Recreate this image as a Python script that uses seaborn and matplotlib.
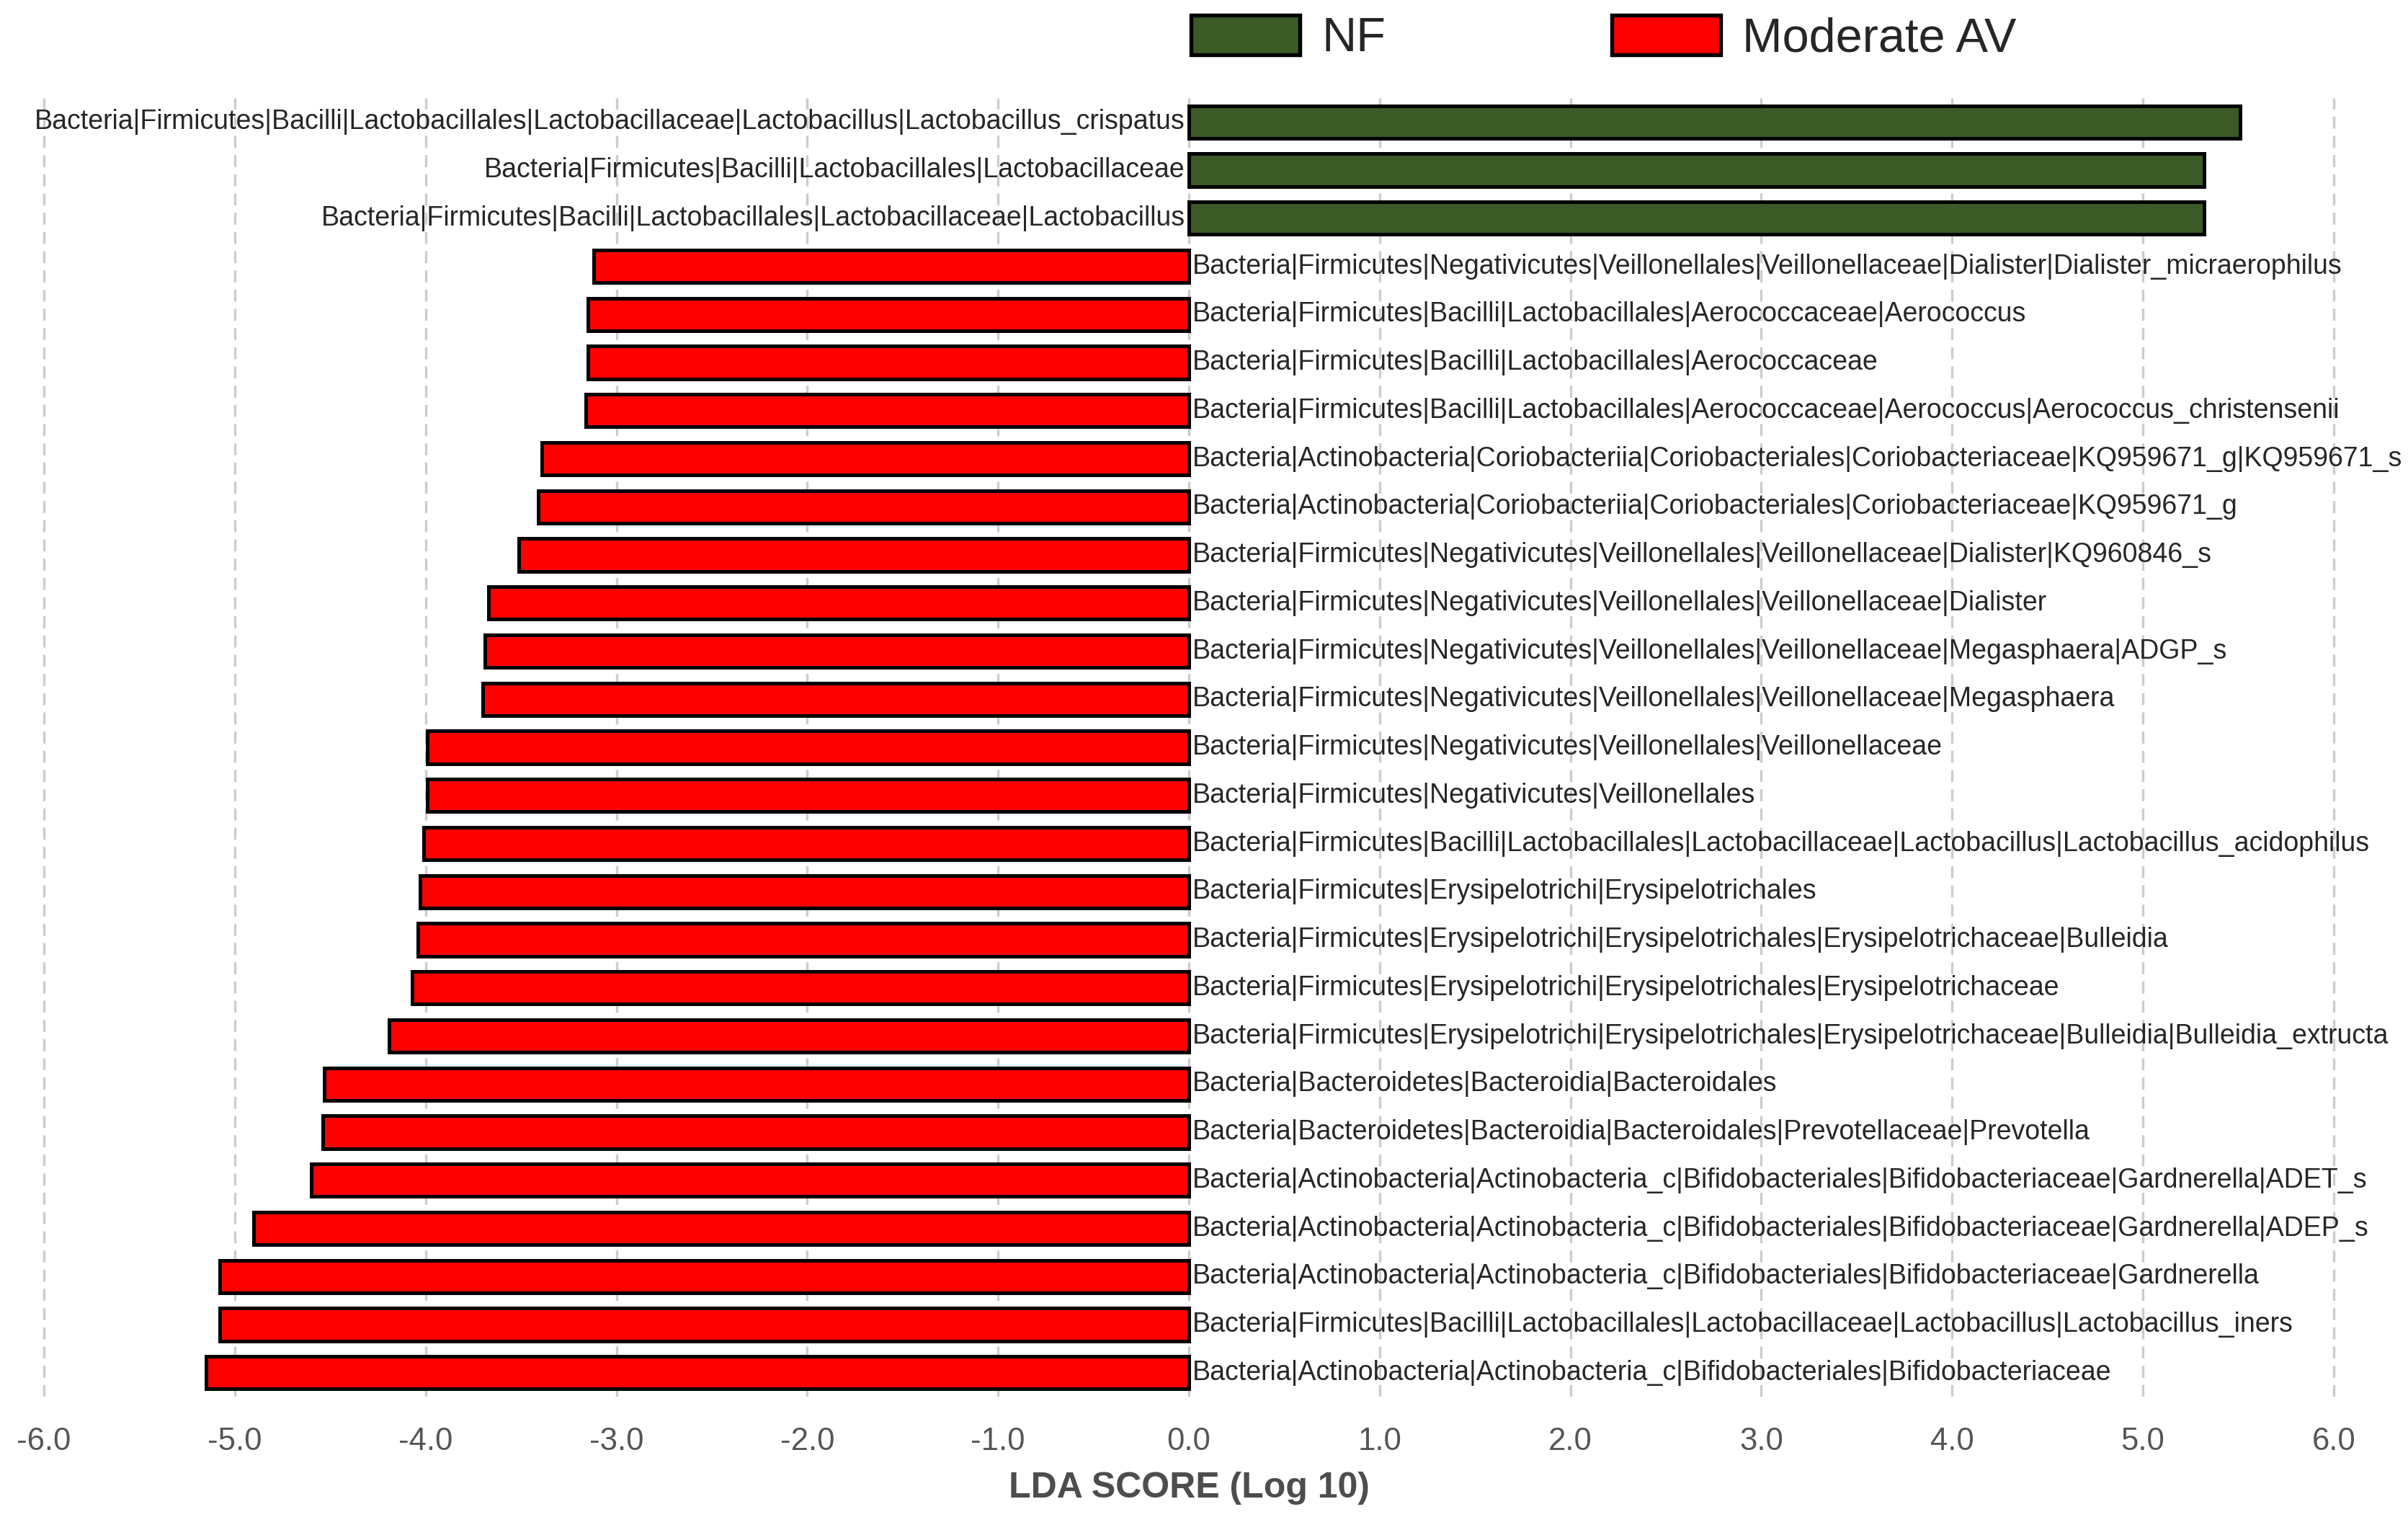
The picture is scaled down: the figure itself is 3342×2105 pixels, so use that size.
import pandas as pd
import matplotlib.pyplot as plt
import matplotlib.patches as mpatches
import seaborn as sns

# taxa, top to bottom as in the figure
taxa = [
    "Bacteria|Firmicutes|Bacilli|Lactobacillales|Lactobacillaceae|Lactobacillus|Lactobacillus_crispatus",
    "Bacteria|Firmicutes|Bacilli|Lactobacillales|Lactobacillaceae",
    "Bacteria|Firmicutes|Bacilli|Lactobacillales|Lactobacillaceae|Lactobacillus",
    "Bacteria|Firmicutes|Negativicutes|Veillonellales|Veillonellaceae|Dialister|Dialister_micraerophilus",
    "Bacteria|Firmicutes|Bacilli|Lactobacillales|Aerococcaceae|Aerococcus",
    "Bacteria|Firmicutes|Bacilli|Lactobacillales|Aerococcaceae",
    "Bacteria|Firmicutes|Bacilli|Lactobacillales|Aerococcaceae|Aerococcus|Aerococcus_christensenii",
    "Bacteria|Actinobacteria|Coriobacteriia|Coriobacteriales|Coriobacteriaceae|KQ959671_g|KQ959671_s",
    "Bacteria|Actinobacteria|Coriobacteriia|Coriobacteriales|Coriobacteriaceae|KQ959671_g",
    "Bacteria|Firmicutes|Negativicutes|Veillonellales|Veillonellaceae|Dialister|KQ960846_s",
    "Bacteria|Firmicutes|Negativicutes|Veillonellales|Veillonellaceae|Dialister",
    "Bacteria|Firmicutes|Negativicutes|Veillonellales|Veillonellaceae|Megasphaera|ADGP_s",
    "Bacteria|Firmicutes|Negativicutes|Veillonellales|Veillonellaceae|Megasphaera",
    "Bacteria|Firmicutes|Negativicutes|Veillonellales|Veillonellaceae",
    "Bacteria|Firmicutes|Negativicutes|Veillonellales",
    "Bacteria|Firmicutes|Bacilli|Lactobacillales|Lactobacillaceae|Lactobacillus|Lactobacillus_acidophilus",
    "Bacteria|Firmicutes|Erysipelotrichi|Erysipelotrichales",
    "Bacteria|Firmicutes|Erysipelotrichi|Erysipelotrichales|Erysipelotrichaceae|Bulleidia",
    "Bacteria|Firmicutes|Erysipelotrichi|Erysipelotrichales|Erysipelotrichaceae",
    "Bacteria|Firmicutes|Erysipelotrichi|Erysipelotrichales|Erysipelotrichaceae|Bulleidia|Bulleidia_extructa",
    "Bacteria|Bacteroidetes|Bacteroidia|Bacteroidales",
    "Bacteria|Bacteroidetes|Bacteroidia|Bacteroidales|Prevotellaceae|Prevotella",
    "Bacteria|Actinobacteria|Actinobacteria_c|Bifidobacteriales|Bifidobacteriaceae|Gardnerella|ADET_s",
    "Bacteria|Actinobacteria|Actinobacteria_c|Bifidobacteriales|Bifidobacteriaceae|Gardnerella|ADEP_s",
    "Bacteria|Actinobacteria|Actinobacteria_c|Bifidobacteriales|Bifidobacteriaceae|Gardnerella",
    "Bacteria|Firmicutes|Bacilli|Lactobacillales|Lactobacillaceae|Lactobacillus|Lactobacillus_iners",
    "Bacteria|Actinobacteria|Actinobacteria_c|Bifidobacteriales|Bifidobacteriaceae",
]

lda = [5.51, 5.32, 5.32,
       -3.12, -3.15, -3.15, -3.16, -3.39, -3.41, -3.51, -3.67, -3.69, -3.70,
       -3.99, -3.99, -4.01, -4.03, -4.04, -4.07, -4.19, -4.53, -4.54, -4.60,
       -4.90, -5.08, -5.08, -5.15]

group = ["NF", "NF", "NF",
         "Moderate AV", "Moderate AV", "Moderate AV", "Moderate AV", "Moderate AV",
         "Moderate AV", "Moderate AV", "Moderate AV", "Moderate AV", "Moderate AV",
         "Moderate AV", "Moderate AV", "Moderate AV", "Moderate AV", "Moderate AV",
         "Moderate AV", "Moderate AV", "Moderate AV", "Moderate AV", "Moderate AV",
         "Moderate AV", "Moderate AV", "Moderate AV", "Moderate AV"]

groups = ["NF", "Moderate AV"]
colors = {"NF": "#3b5a26", "Moderate AV": "#ff0000"}
ticks = [-6, -5, -4, -3, -2, -1, 0, 1, 2, 3, 4, 5, 6]

df = pd.DataFrame({"taxon": taxa, "lda": lda, "group": group})

sns.set_style("white")
plt.rcParams["font.family"] = ["Liberation Sans", "DejaVu Sans"]

fig = plt.figure(figsize=(11.14, 7.017), dpi=300)
ax = fig.add_axes([0.0064, 0.0793, 0.9746, 0.8561])

sns.barplot(data=df, x="lda", y="taxon", hue="group", hue_order=groups,
            palette=colors, saturation=1, orient="h", dodge=False, width=0.68,
            edgecolor="black", linewidth=1.2, legend=False, ax=ax, zorder=3)

ax.set_xlim(-6.15, 6.15)
ax.set_xticks(ticks)
ax.set_xticklabels([f"{t:.1f}" for t in ticks], color="#555555", fontsize=10.5)
ax.set_yticks([])
ax.set_ylabel("")
ax.tick_params(axis="x", length=0, pad=10)
ax.set_xlabel("LDA SCORE (Log 10)", fontsize=12, fontweight="bold",
              color="#4d4d4d", labelpad=5)
ax.xaxis.grid(True, linestyle=(0, (5, 3)), color="#cccccc", linewidth=0.8, zorder=0)
ax.yaxis.grid(False)
ax.set_axisbelow(True)
sns.despine(ax=ax, left=True, bottom=True)

for i, (name, val) in enumerate(zip(taxa, lda)):
    if val > 0:
        ax.text(-0.02, i, name, ha="right", va="center", fontsize=9)
    else:
        ax.text(0.02, i, name, ha="left", va="center", fontsize=9)

handles = [mpatches.Patch(facecolor=colors[g], edgecolor="black", linewidth=1.3, label=g)
           for g in groups]
fig.legend(handles=handles, loc="upper left", bbox_to_anchor=(1653 / 3342, 1 - 21 / 2105),
           ncol=2, frameon=False, fontsize=16, borderpad=0, borderaxespad=0,
           handlelength=2.27, handleheight=0.89, handletextpad=0.45,
           columnspacing=4.7)

fig.savefig("out.png", dpi=300)
